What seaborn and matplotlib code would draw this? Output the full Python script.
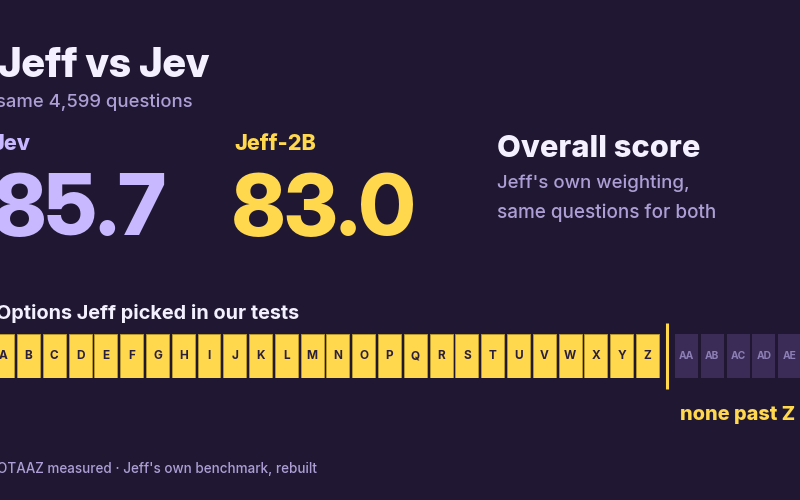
import seaborn as sns
import matplotlib.pyplot as plt

# data
n_questions = 4599
jev_score = 85.7
jeff_score = 83.0
picked = [chr(c) for c in range(ord('A'), ord('Z') + 1)]
not_picked = ['AA', 'AB', 'AC', 'AD', 'AE']

BG = '#201832'
WHITE = '#f4f0ff'
MUTED = '#ad9fd6'
LAVENDER = '#c8b8ff'
YELLOW = '#ffd84d'
DARKBOX = '#3a2c57'
DARKTXT = '#8d7fb5'

sns.set_theme(style='white')
plt.rcParams['font.family'] = ['Inter', 'DejaVu Sans']

W, H = 800, 500
fig = plt.figure(figsize=(8, 5), dpi=100, facecolor=BG)

# overlay for text, in pixel coords
ax0 = fig.add_axes([0, 0, 1, 1])
ax0.set_xlim(0, W)
ax0.set_ylim(H, 0)
ax0.axis('off')
ax0.patch.set_alpha(0)

def txt(x, y, s, size, color, weight=400, ha='left', family='Inter'):
    ax0.text(x, y, s, fontsize=size, color=color, fontweight=weight,
             ha=ha, va='baseline', family=[family, 'DejaVu Sans'])

txt(-2, 77, 'Jeff vs Jev', 29.5, WHITE, 800, family='Inter Display')
txt(-4, 107, f'same {n_questions:,} questions', 13.3, MUTED, 500)
txt(-9, 150, 'Jev', 15.5, LAVENDER, 800)
txt(234, 150, 'Jeff-2B', 15.5, YELLOW, 800)
txt(-7, 235, f'{jev_score:.1f}', 61, LAVENDER, 800, family='Inter Display')
txt(232, 235, f'{jeff_score:.1f}', 61, YELLOW, 800, family='Inter Display')
txt(497, 157, 'Overall score', 22.2, WHITE, 800)
txt(497, 188, "Jeff's own weighting,", 13.4, MUTED, 500)
txt(497, 218, 'same questions for both', 13.6, MUTED, 500)
txt(-4, 319, 'Options Jeff picked in our tests', 14.3, WHITE, 700)
txt(795, 420, 'none past Z', 14.3, YELLOW, 800, ha='right')
txt(-3, 473, "OTAAZ measured \u00b7 Jeff's own benchmark, rebuilt", 9.7, MUTED, 500)

# divider after Z
ax0.plot([667, 667], [323, 389], color=YELLOW, lw=2.2, solid_capstyle='butt')

# option strips
pitch = 25.79
box_top, box_bot = 334, 378
def strip_axes(first_left, n):
    left = first_left + 11.5 - pitch / 2
    return fig.add_axes([left / W, 1 - box_bot / H, n * pitch / W,
                         (box_bot - box_top) / H])

ax1 = strip_axes(-8.8, len(picked))
sns.barplot(x=picked, y=[1] * len(picked), color=YELLOW, saturation=1,
            width=0.89, edgecolor='#b89a2a', linewidth=0.7, ax=ax1)
for i, s in enumerate(picked):
    ax1.text(i, 0.5, s, ha='center', va='center', fontsize=8.5,
             fontweight=700, color='#2a1f3d')

ax2 = strip_axes(675, len(not_picked))
sns.barplot(x=not_picked, y=[1] * len(not_picked), color=DARKBOX,
            saturation=1, width=0.89, linewidth=0, ax=ax2)
for i, s in enumerate(not_picked):
    ax2.text(i, 0.5, s, ha='center', va='center', fontsize=7.4,
             fontweight=700, color=DARKTXT)

for ax, n in [(ax1, len(picked)), (ax2, len(not_picked))]:
    ax.set_xlim(-0.5, n - 0.5)
    ax.set_ylim(0, 1)
    ax.axis('off')
    ax.patch.set_alpha(0)

fig.savefig('out.png', dpi=100, facecolor=BG)
